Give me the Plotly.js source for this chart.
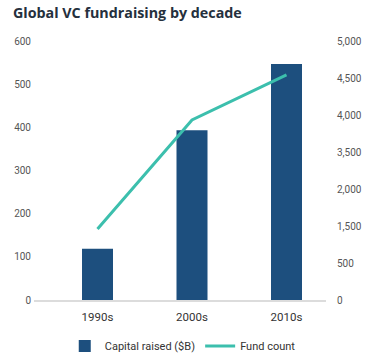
<!DOCTYPE html>
<html>
<head>
<meta charset="utf-8">
<script src="https://cdn.plot.ly/plotly-3.0.1.min.js"></script>
<style>html,body{margin:0;padding:0;background:#fff;}#chart{width:370px;height:363px;}</style>
</head>
<body>
<div id="chart"></div>
<script>
const decades = ["1990s", "2000s", "2010s"];
const capitalRaised = [119, 393, 547];
const fundCount = [1370, 3475, 4345];
const leftTickVals = [0, 100, 200, 300, 400, 500, 600];
const rightTickText = ["0", "500", "1,500", "2,000", "3,500", "4,000", "4,500", "5,000"];
const rightTickVals = rightTickText.map((t, i) => 5000 * i / (rightTickText.length - 1));

const traces = [
  {
    type: "bar",
    name: "Capital raised ($B)",
    x: decades,
    y: capitalRaised,
    marker: { color: "#1d4f7e" },
    yaxis: "y",
    hoverinfo: "skip"
  },
  {
    type: "scatter",
    mode: "lines",
    name: "Fund count",
    x: decades,
    y: fundCount,
    line: { color: "#3cbfad", width: 3 },
    yaxis: "y2",
    hoverinfo: "skip"
  }
];

const layout = {
  width: 370,
  height: 363,
  margin: { l: 34, r: 44, t: 41, b: 63 },
  paper_bgcolor: "#fff",
  plot_bgcolor: "#fff",
  font: { family: "Roboto, sans-serif", color: "#333" },
  title: {
    text: "<b>Global VC fundraising by decade</b>",
    font: { family: "Open Sans, sans-serif", size: 14.3, color: "#25303d" },
    x: 0.035, xanchor: "left", xref: "container",
    y: 0.963, yanchor: "middle", yref: "container"
  },
  bargap: 0.672,
  xaxis: {
    type: "category",
    range: [-0.672, 2.418],
    showgrid: false,
    zeroline: false,
    showline: true,
    linecolor: "#dcdcdc",
    linewidth: 1.5,
    ticks: "",
    tickfont: { size: 11.5, color: "#333" },
    ticklabelstandoff: 6
  },
  yaxis: {
    range: [0, 600],
    tickvals: leftTickVals,
    showgrid: false,
    zeroline: false,
    showline: false,
    ticks: "",
    tickfont: { size: 10, color: "#555" },
    ticklabelstandoff: 2
  },
  yaxis2: {
    overlaying: "y",
    side: "right",
    range: [0, 5000],
    tickvals: rightTickVals,
    ticktext: rightTickText,
    showgrid: false,
    zeroline: false,
    showline: false,
    ticks: "",
    tickfont: { size: 10, color: "#555" },
    ticklabelstandoff: 10
  },
  showlegend: true,
  legend: {
    orientation: "h",
    xref: "container", yref: "container",
    x: 0.175, xanchor: "left",
    y: 0.047, yanchor: "middle",
    font: { size: 11, color: "#333" },
    itemwidth: 30
  }
};

Plotly.newPlot("chart", traces, layout, { displayModeBar: false, staticPlot: true });
</script>
</body>
</html>
